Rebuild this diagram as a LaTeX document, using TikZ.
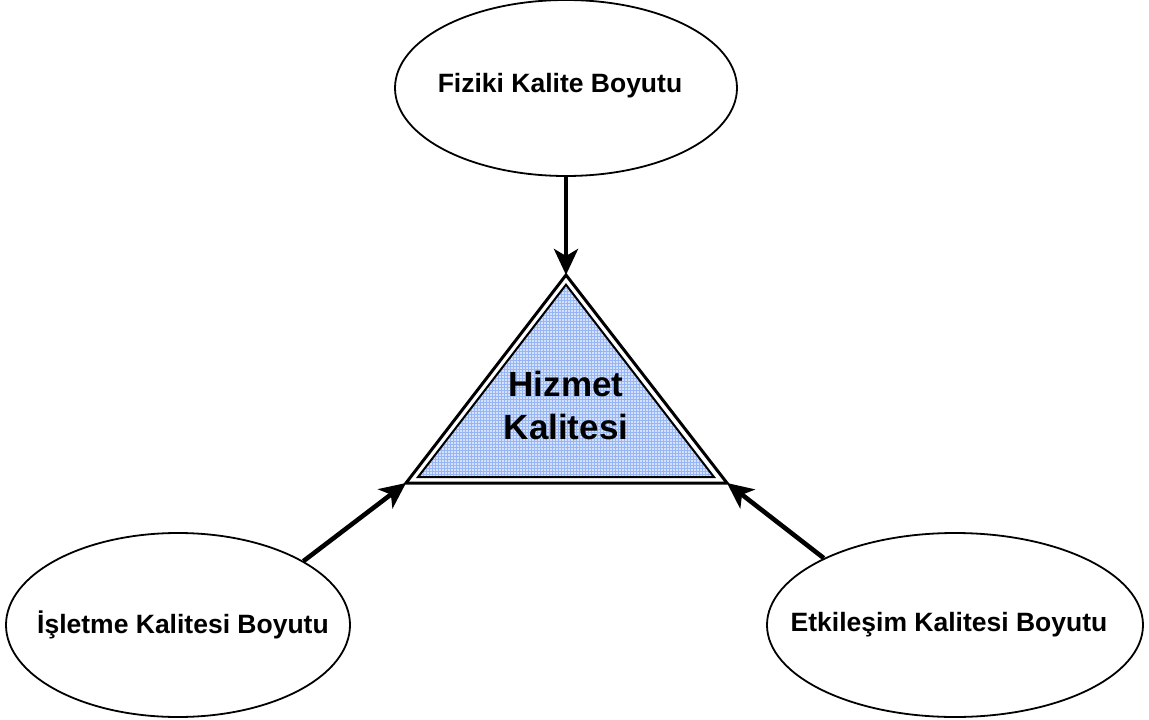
\documentclass[tikz,border=0pt]{standalone}
\usepackage{fontspec}
\setmainfont{Liberation Sans}
\usetikzlibrary{shapes.geometric,arrows.meta,patterns}
\definecolor{trifill}{RGB}{214,226,252}
\definecolor{trigrid}{RGB}{150,182,245}
\tikzset{
  dim/.style={draw, ellipse, line width=1.8pt, inner sep=0pt},
  dimtext/.style={font=\bfseries\fontsize{26.5}{30}\selectfont, inner sep=0pt},
  flow/.style={line width=4.6pt, -{Stealth[length=26pt, width=24pt, inset=7pt]}},
}
\begin{document}
\begin{tikzpicture}[x=1pt, y=-1pt]
  \useasboundingbox (0,0) rectangle (1149,720);
  % three dimensions
  \node[dim, minimum width=342pt, minimum height=176pt] (phys) at (566,88) {};
  \node[dimtext] (physT) at (560,86) {Fiziki Kalite Boyutu};
  \node[dim, minimum width=344pt, minimum height=184pt] (oper) at (178,625) {};
  \node[dimtext] (operT) at (183,625) {İşletme Kalitesi Boyutu};
  \node[dim, minimum width=376pt, minimum height=184pt] (inter) at (955,625) {};
  \node[dimtext] (interT) at (949,625) {Etkileşim Kalitesi Boyutu};
  % service quality triangle: outer outline and an inset inner triangle
  \coordinate (apex) at (566,275);
  \coordinate (bl) at (406,483);
  \coordinate (br) at (727,483);
  \coordinate (apexI) at (566,284.7);
  \coordinate (blI) at (418,477.1);
  \coordinate (brI) at (714,477.1);
  \draw[line width=3pt, line join=miter] (apex) -- (br) -- (bl) -- cycle;
  \fill[trifill] (apexI) -- (brI) -- (blI) -- cycle;
  \fill[pattern=grid, pattern color=trigrid] (apexI) -- (brI) -- (blI) -- cycle;
  \draw[line width=2pt, line join=miter] (apexI) -- (brI) -- (blI) -- cycle;
  \node[font=\bfseries\fontsize{35}{43}\selectfont, align=center] (core) at (566,405) {Hizmet\\Kalitesi};
  % influences
  \draw[flow] (phys.south) -- (apex);
  \draw[flow] (oper.27) -- (bl);
  \draw[flow] (inter.153) -- (br);
\end{tikzpicture}
\end{document}
